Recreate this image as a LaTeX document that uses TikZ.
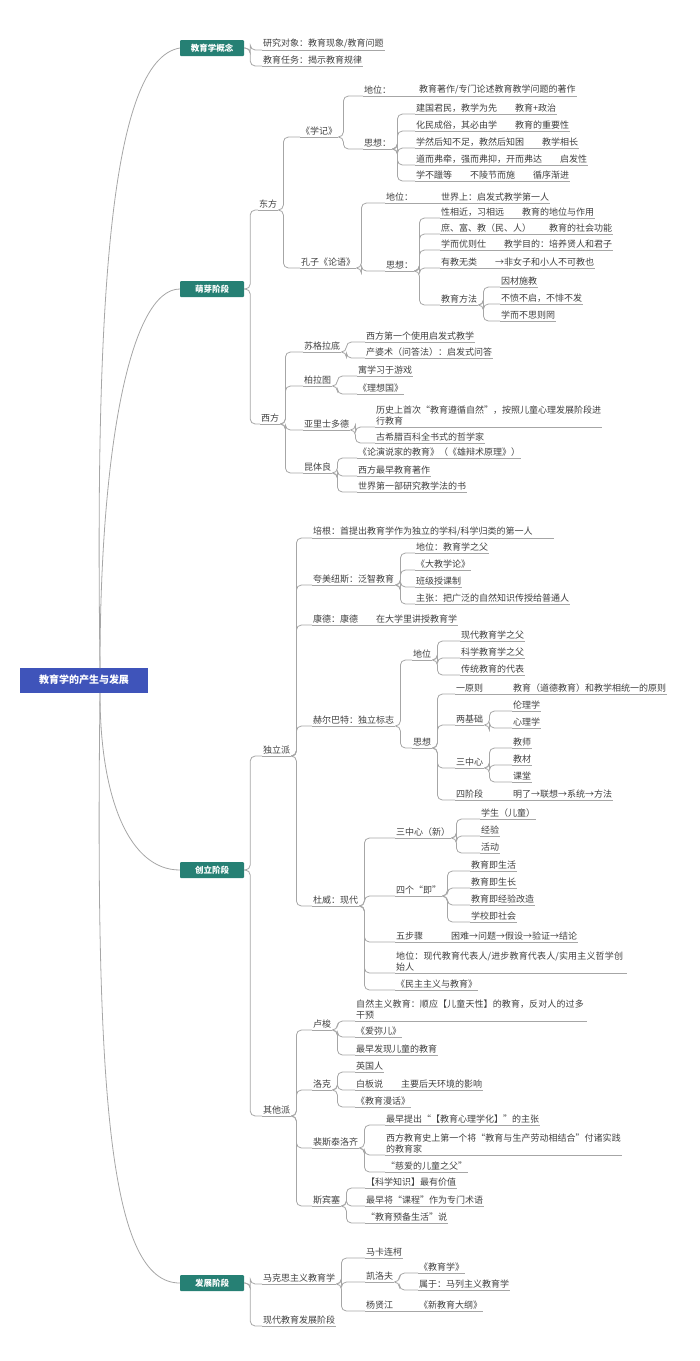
\documentclass[tikz,border=0pt]{standalone}
\usepackage{fontspec}
\newfontfamily\cjk{Noto Sans CJK SC}
\XeTeXlinebreaklocale "zh"
\XeTeXlinebreakskip=0pt plus 1pt
\usetikzlibrary{positioning}
\newcommand{\tp}[5][]{\node[topic,#1] (#2) at (#3,-#4) {#5};}
\newcommand{\lk}[2]{\draw[connect] (#1.south east) -- ++(5,0) |- (#2.south west);}
\newcommand{\lks}[2]{\draw[connect] (#1.south east) -- (#2.south west);}
\newcommand{\lkb}[2]{\draw[connect] (#1.east) -- ++(6,0) |- (#2.south west);}
\begin{document}
\begin{tikzpicture}[x=1pt,y=1pt]
\tikzstyle{connect}=[draw=black!35, line width=0.8pt, rounded corners=5pt]
\tikzstyle{topic}=[anchor=south west, inner xsep=1pt, inner ysep=1.5pt, text=black!75, font=\cjk\fontsize{9}{11}\selectfont, align=left,
  append after command={\pgfextra{\draw[draw=black!35, line width=0.8pt] (\tikzlastnode.south west) -- (\tikzlastnode.south east);}}]
\tikzstyle{stage}=[rectangle, fill={rgb,255:red,38;green,128;blue,116}, text=white, font=\cjk\bfseries\fontsize{8.5}{10}\selectfont, minimum width=64pt, minimum height=16pt, rounded corners=1pt]
\tikzstyle{main}=[rectangle, fill={rgb,255:red,63;green,84;blue,186}, text=white, font=\cjk\bfseries\fontsize{10}{12}\selectfont, minimum width=128pt, minimum height=25pt]
\useasboundingbox (0,0) rectangle (700,-1361);
% root and stages
\node[main] (root) at (84,-680) {教育学的产生与发展};
\coordinate (rt) at (100,-668);
\coordinate (rb) at (100,-693);
\node[stage] (b1) at (212,-48) {教育学概念};
\node[stage] (b2) at (212,-289) {萌芽阶段};
\node[stage] (b3) at (212,-870) {创立阶段};
\node[stage] (b4) at (212,-1283) {发展阶段};
\draw[connect] (rt) .. controls (95,-300) and (110,-60) .. (b1.west);
\draw[connect] (rt) .. controls (100,-450) and (130,-289) .. (b2.west);
\draw[connect] (rb) .. controls (100,-800) and (130,-870) .. (b3.west);
\draw[connect] (rb) .. controls (95,-1100) and (110,-1283) .. (b4.west);
% concept
\tp{a1}{262}{50}{研究对象：教育现象/教育问题}
\tp{a2}{262}{66}{教育任务：揭示教育规律}
\lkb{b1}{a1} \lkb{b1}{a2}
% sprouting stage
\tp{east}{258}{210}{东方}
\tp{west}{260}{424}{西方}
\lkb{b2}{east} \lkb{b2}{west}
\tp{xj}{300}{137}{《学记》}
\tp{ly}{300}{268}{孔子《论语》}
\lk{east}{xj} \lk{east}{ly}
\tp{xjd}{363}{96}{地位：}
\tp{xjd1}{418}{96}{教育著作/专门论述教育教学问题的著作}
\tp{xjs}{363}{149}{思想：}
\lk{xj}{xjd} \lks{xjd}{xjd1} \lk{xj}{xjs}
\tp{xjs1}{415}{114}{建国君民，教学为先\quad\quad 教育+政治}
\tp{xjs2}{415}{131}{化民成俗，其必由学\quad\quad 教育的重要性}
\tp{xjs3}{415}{148}{学然后知不足，教然后知困\quad\quad 教学相长}
\tp{xjs4}{415}{165}{道而弗牵，强而弗抑，开而弗达\quad\quad 启发性}
\tp{xjs5}{415}{181}{学不躐等\quad\quad 不陵节而施\quad\quad 循序渐进}
\foreach \i in {1,...,5} {\lk{xjs}{xjs\i}}
\tp{lyd}{385}{203}{地位：}
\tp{lyd1}{440}{203}{世界上：启发式教学第一人}
\tp{lys}{385}{271}{思想：}
\lk{ly}{lyd} \lks{lyd}{lyd1} \lk{ly}{lys}
\tp{lys1}{440}{218}{性相近，习相远\quad\quad 教育的地位与作用}
\tp{lys2}{440}{234}{庶、富、教（民、人）\quad\quad 教育的社会功能}
\tp{lys3}{440}{250}{学而优则仕\quad\quad 教学目的：培养贤人和君子}
\tp{lys4}{440}{268}{有教无类\quad\quad →非女子和小人不可教也}
\tp{lys5}{440}{305}{教育方法}
\foreach \i in {1,...,5} {\lk{lys}{lys\i}}
\tp{lym1}{500}{287}{因材施教}
\tp{lym2}{500}{304}{不愤不启，不悱不发}
\tp{lym3}{500}{321}{学而不思则罔}
\foreach \i in {1,2,3} {\lk{lys5}{lym\i}}
\tp{sg}{303}{352}{苏格拉底}
\tp{sg1}{365}{342}{西方第一个使用启发式教学}
\tp{sg2}{365}{358}{产婆术（问答法）：启发式问答}
\tp{bl}{303}{386}{柏拉图}
\tp{bl1}{357}{376}{寓学习于游戏}
\tp{bl2}{357}{394}{《理想国》}
\tp{ys}{303}{430}{亚里士多德}
\tp[text width=225pt]{ys1}{375}{427}{历史上首次“教育遵循自然”，按照儿童心理发展阶段进行教育}
\tp{ys2}{375}{443}{古希腊百科全书式的哲学家}
\tp{kt}{303}{473}{昆体良}
\tp{kt1}{357}{458}{《论演说家的教育》（《雄辩术原理》）}
\tp{kt2}{357}{476}{西方最早教育著作}
\tp{kt3}{357}{492}{世界第一部研究教学法的书}
\lk{west}{sg} \lk{west}{bl} \lk{west}{ys} \lk{west}{kt}
\lk{sg}{sg1} \lk{sg}{sg2} \lk{bl}{bl1} \lk{bl}{bl2}
\lk{ys}{ys1} \lk{ys}{ys2} \lk{kt}{kt1} \lk{kt}{kt2} \lk{kt}{kt3}
% founding stage
\tp{dl}{262}{756}{独立派}
\tp{qt}{262}{1116}{其他派}
\lkb{b3}{dl} \lkb{b3}{qt}
\tp[text width=240pt]{pg}{312}{538}{培根：首提出教育学作为独立的学科/科学归类的第一人}
\tp{km}{312}{585}{夸美纽斯：泛智教育}
\tp{kd}{312}{625}{康德：康德\quad\quad 在大学里讲授教育学}
\tp{hb}{312}{726}{赫尔巴特：独立标志}
\tp{dw}{312}{906}{杜威：现代}
\foreach \n in {pg,km,kd,hb,dw} {\lk{dl}{\n}}
\tp{km1}{415}{553}{地位：教育学之父}
\tp{km2}{415}{570}{《大教学论》}
\tp{km3}{415}{587}{班级授课制}
\tp{km4}{415}{604}{主张：把广泛的自然知识传授给普通人}
\foreach \i in {1,...,4} {\lk{km}{km\i}}
\tp{hbd}{412}{660}{地位}
\tp{hbs}{412}{748}{思想}
\lk{hb}{hbd} \lk{hb}{hbs}
\tp{hbd1}{460}{641}{现代教育学之父}
\tp{hbd2}{460}{658}{科学教育学之父}
\tp{hbd3}{460}{675}{传统教育的代表}
\foreach \i in {1,2,3} {\lk{hbd}{hbd\i}}
\tp{hy}{455}{694}{一原则}
\tp{hy1}{512}{694}{教育（道德教育）和教学相统一的原则}
\tp{hj}{455}{725}{两基础}
\tp{hj1}{512}{711}{伦理学}
\tp{hj2}{512}{728}{心理学}
\tp{hz}{455}{768}{三中心}
\tp{hz1}{512}{748}{教师}
\tp{hz2}{512}{765}{教材}
\tp{hz3}{512}{782}{课堂}
\tp{hs}{455}{800}{四阶段}
\tp{hs1}{512}{800}{明了→联想→系统→方法}
\foreach \n in {hy,hj,hz,hs} {\lk{hbs}{\n}}
\lks{hy}{hy1} \lk{hj}{hj1} \lk{hj}{hj2} \lk{hz}{hz1} \lk{hz}{hz2} \lk{hz}{hz3} \lks{hs}{hs1}
\tp{dz}{395}{838}{三中心（新）}
\tp{dz1}{480}{819}{学生（儿童）}
\tp{dz2}{480}{836}{经验}
\tp{dz3}{480}{853}{活动}
\tp{dj}{395}{896}{四个“即”}
\tp{dj1}{470}{871}{教育即生活}
\tp{dj2}{470}{888}{教育即生长}
\tp{dj3}{470}{905}{教育即经验改造}
\tp{dj4}{470}{922}{学校即社会}
\tp{dwb}{395}{942}{五步骤}
\tp{dwb1}{450}{942}{困难→问题→假设→验证→结论}
\tp[text width=230pt]{dwd}{395}{973}{地位：现代教育代表人/进步教育代表人/实用主义哲学创始人}
\tp{dwm}{395}{990}{《民主主义与教育》}
\foreach \n in {dz,dj,dwb,dwd,dwm} {\lk{dw}{\n}}
\foreach \i in {1,2,3} {\lk{dz}{dz\i}}
\foreach \i in {1,...,4} {\lk{dj}{dj\i}}
\lks{dwb}{dwb1}
\tp{ls}{312}{1030}{卢梭}
\tp[text width=230pt]{ls1}{355}{1021}{自然主义教育：顺应【儿童天性】的教育，反对人的过多干预}
\tp{ls2}{355}{1037}{《爱弥儿》}
\tp{ls3}{355}{1055}{最早发现儿童的教育}
\tp{lk}{312}{1090}{洛克}
\tp{lk1}{355}{1072}{英国人}
\tp{lk2}{355}{1090}{白板说\quad\quad 主要后天环境的影响}
\tp{lk3}{355}{1107}{《教育漫话》}
\tp{pz}{312}{1148}{裴斯泰洛齐}
\tp{pz1}{385}{1125}{最早提出“【教育心理学化】”的主张}
\tp[text width=235pt]{pz2}{385}{1155}{西方教育史上第一个将“教育与生产劳动相结合”付诸实践的教育家}
\tp{pz3}{385}{1172}{“慈爱的儿童之父”}
\tp{sb}{312}{1206}{斯宾塞}
\tp{sb1}{365}{1188}{【科学知识】最有价值}
\tp{sb2}{365}{1206}{最早将“课程”作为专门术语}
\tp{sb3}{365}{1223}{“教育预备生活”说}
\foreach \n in {ls,lk,pz,sb} {\lk{qt}{\n}}
\foreach \i in {1,2,3} {\lk{ls}{ls\i} \lk{lk}{lk\i} \lk{pz}{pz\i} \lk{sb}{sb\i}}
% development stage
\tp{mk}{262}{1284}{马克思主义教育学}
\tp{xd}{262}{1326}{现代教育发展阶段}
\lkb{b4}{mk} \lkb{b4}{xd}
\tp{mk1}{365}{1258}{马卡连柯}
\tp{kl}{365}{1282}{凯洛夫}
\tp{yx}{365}{1311}{杨贤江}
\lk{mk}{mk1} \lk{mk}{kl} \lk{mk}{yx}
\tp{kl1}{418}{1273}{《教育学》}
\tp{kl2}{418}{1290}{属于：马列主义教育学}
\tp{yx1}{418}{1311}{《新教育大纲》}
\lk{kl}{kl1} \lk{kl}{kl2} \lks{yx}{yx1}
\end{tikzpicture}
\end{document}
